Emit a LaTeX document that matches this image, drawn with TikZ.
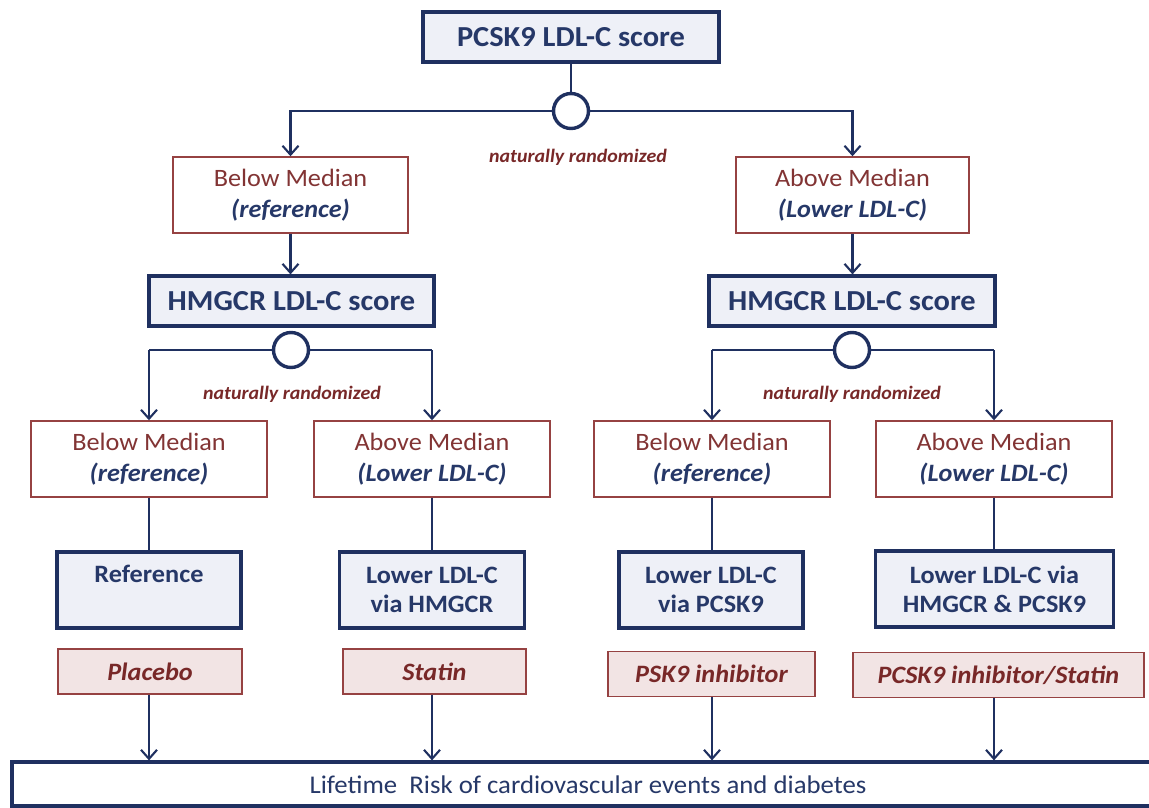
\documentclass[tikz,border=0pt]{standalone}
\usepackage{fontspec}
\setmainfont{Carlito}[FakeStretch=1.05]
\usetikzlibrary{arrows.meta}
\definecolor{navy}{RGB}{31,48,96}
\definecolor{navytext}{RGB}{38,56,104}
\definecolor{boxfill}{RGB}{238,240,247}
\definecolor{redline}{RGB}{150,66,66}
\definecolor{redtext}{RGB}{130,52,52}
\definecolor{drugfill}{RGB}{242,228,228}
\definecolor{randtext}{RGB}{120,40,40}
\begin{document}
\begin{tikzpicture}[x=1pt,y=-1pt,
  titlebox/.style={draw=navy, line width=3.2pt, fill=boxfill, text=navytext,
    font=\fontsize{29}{34}\selectfont\bfseries, inner sep=0pt, minimum height=50pt},
  medbox/.style={draw=redline, line width=1.4pt, fill=white, align=center,
    font=\fontsize{25}{31}\selectfont, text=redtext, inner sep=0pt, minimum height=76pt},
  effbox/.style={draw=navy, line width=3.2pt, fill=boxfill, align=center, text=navytext,
    font=\fontsize{25}{29}\selectfont\bfseries, inner sep=0pt, minimum height=76pt},
  drugbox/.style={draw=redline, line width=1.4pt, fill=drugfill, text=randtext,
    font=\fontsize{25}{30}\selectfont\bfseries\itshape, inner sep=0pt, minimum height=45pt},
  randcircle/.style={circle, draw=navy, line width=3.4pt, fill=white, minimum size=35pt, inner sep=0pt},
  randlabel/.style={text=randtext, font=\fontsize{19}{22}\selectfont\bfseries\itshape, inner sep=0pt},
  arr/.style={draw=navy, line width=2.1pt, -{Straight Barb[length=9pt,width=16pt,line width=2.1pt]}},
  conn/.style={draw=navy, line width=2.1pt}
]
\useasboundingbox (0,0) rectangle (1149,808);
\newcommand{\sub}[1]{{\color{navytext}\bfseries\itshape #1}}

% top
\node[titlebox, minimum width=296pt] (top) at (571,37) {PCSK9 LDL-C score};
\node[randcircle] (c1) at (571,111) {};
\node[randlabel] (r1) at (578,157) {naturally randomized};

% level 1
\node[medbox, minimum width=235pt] (L1) at (290.5,195) {Below Median\\\sub{(reference)}};
\node[medbox, minimum width=233pt] (R1) at (852.5,195) {Above Median\\\sub{(Lower LDL-C)}};

% HMGCR
\node[titlebox, minimum width=285pt] (HL) at (291.5,301) {HMGCR LDL-C score};
\node[titlebox, minimum width=286pt] (HR) at (852,301) {HMGCR LDL-C score};
\node[randcircle] (cL) at (291,350) {};
\node[randcircle] (cR) at (852,350) {};
\node[randlabel] (rL) at (292,394) {naturally randomized};
\node[randlabel] (rR) at (852,394) {naturally randomized};

% level 3
\node[medbox, minimum width=236pt] (LB) at (149,459) {Below Median\\\sub{(reference)}};
\node[medbox, minimum width=236pt] (LA) at (432,459) {Above Median\\\sub{(Lower LDL-C)}};
\node[medbox, minimum width=236pt] (RB) at (712,459) {Below Median\\\sub{(reference)}};
\node[medbox, minimum width=236pt] (RA) at (994,459) {Above Median\\\sub{(Lower LDL-C)}};

% level 4
\node[effbox, minimum width=184pt] (E1) at (149,590) {\raisebox{-5pt}{Reference}\\\strut};
\node[effbox, minimum width=185pt] (E2) at (432,590) {Lower LDL-C\\via HMGCR};
\node[effbox, minimum width=184pt] (E3) at (711,590) {Lower LDL-C\\via PCSK9};
\node[effbox, minimum width=238pt] (E4) at (994.5,589) {Lower LDL-C via\\HMGCR \& PCSK9};

% drugs
\node[drugbox, minimum width=184pt] (D1) at (150,671.5) {Placebo};
\node[drugbox, minimum width=183pt] (D2) at (434.5,671.5) {Statin};
\node[drugbox, minimum width=207pt] (D3) at (711.5,674) {PSK9 inhibitor};
\node[drugbox, minimum width=291pt] (D4) at (998.5,675) {PCSK9 inhibitor/Statin};

% outcome
\node[draw=navy, line width=3.2pt, fill=white, inner sep=0pt,
  minimum width=1150pt, minimum height=44pt] (out) at (587,784) {};
\node[text=navytext, font=\fontsize{25.5}{30}\selectfont, inner sep=0pt] (outt) at (588,785) {Lifetime\ \ Risk of cardiovascular events and diabetes};

% connectors
\draw[conn] (top.south) -- (c1.north);
\draw[arr] (c1.west) -| (L1.north);
\draw[arr] (c1.east) -| (R1.north);
\draw[arr] (L1.south) -- (L1.south |- HL.north);
\draw[arr] (R1.south) -- (R1.south |- HR.north);

\draw[conn] (cL.west) -- (LB.north |- cL.west) coordinate (hl1);
\draw[arr] (hl1) -- (LB.north);
\draw[conn] (cL.east) -- (LA.north |- cL.east) coordinate (hl2);
\draw[arr] (hl2) -- (LA.north);
\draw[conn] (cR.west) -- (RB.north |- cR.west) coordinate (hr1);
\draw[arr] (hr1) -- (RB.north);
\draw[conn] (cR.east) -- (RA.north |- cR.east) coordinate (hr2);
\draw[arr] (hr2) -- (RA.north);

\draw[conn] (LB.south) -- (LB.south |- E1.north);
\draw[conn] (LA.south) -- (LA.south |- E2.north);
\draw[conn] (RB.south) -- (RB.south |- E3.north);
\draw[conn] (RA.south) -- (RA.south |- E4.north);

\draw[arr] (LB.south |- D1.south) -- (LB.south |- out.north);
\draw[arr] (LA.south |- D2.south) -- (LA.south |- out.north);
\draw[arr] (RB.south |- D3.south) -- (RB.south |- out.north);
\draw[arr] (RA.south |- D4.south) -- (RA.south |- out.north);
\end{tikzpicture}
\end{document}
